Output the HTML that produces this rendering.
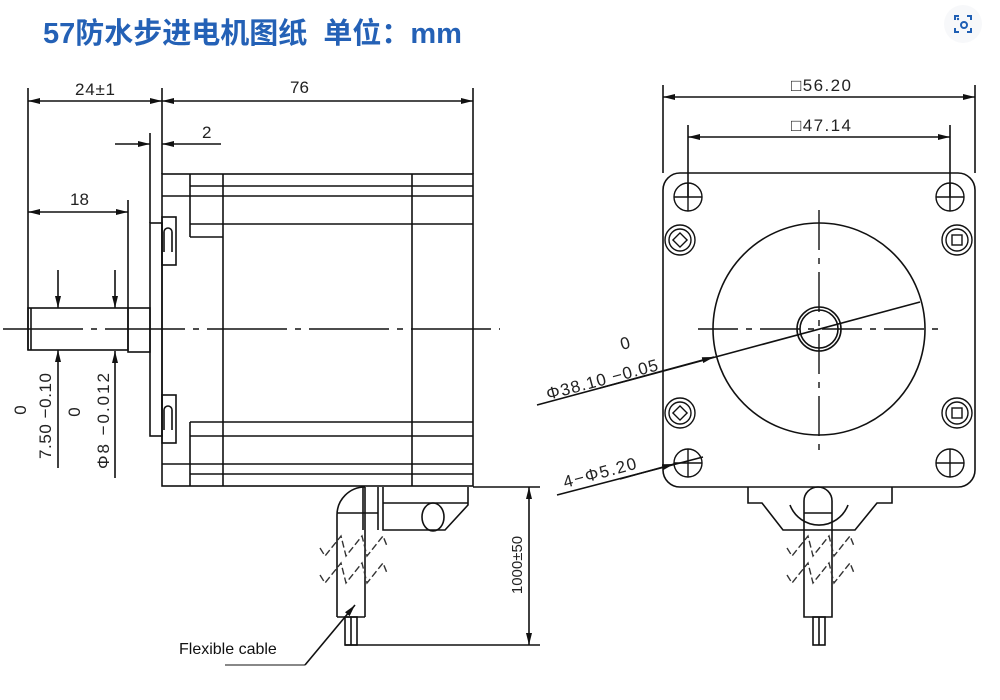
<!DOCTYPE html>
<html><head><meta charset="utf-8"><style>
html,body{margin:0;padding:0;background:#fff;width:1000px;height:700px;overflow:hidden}
svg{display:block}
.t{font-family:"Liberation Sans Narrow","Liberation Sans",sans-serif;fill:#222}
</style></head><body>
<svg width="1000" height="700" viewBox="0 0 1000 700" xmlns="http://www.w3.org/2000/svg">
<defs>
<marker id="a" viewBox="0 0 12 6" refX="12" refY="3" markerWidth="12" markerHeight="6" orient="auto-start-reverse" markerUnits="userSpaceOnUse"><path d="M0,0 L12,3 L0,6 z" fill="#111"/></marker>
</defs>
<text x="43" y="43" font-family="'Liberation Sans','Noto Sans CJK SC',sans-serif" font-size="29" font-weight="bold" fill="#2461b6" xml:space="preserve">57防水步进电机图纸  单位：mm</text>
<circle cx="963" cy="24" r="19" fill="#f7f8fa"/>
<g fill="none" stroke="#1f5fb4" stroke-width="2">
<path d="M955,20v-4h4 M967,16h4v4 M971,28v4h-4 M959,32h-4v-4"/>
<circle cx="964" cy="25" r="3"/>
</g>
<circle cx="958" cy="19" r="1.2" fill="#1f5fb4"/>

<g stroke="#111" stroke-width="1.6" fill="none">
<line x1="28" y1="88" x2="28" y2="350"/>
<line x1="162" y1="88" x2="162" y2="174"/>
<line x1="473" y1="88" x2="473" y2="174"/>
<line x1="28" y1="101" x2="162" y2="101" marker-start="url(#a)" marker-end="url(#a)"/>
<line x1="162" y1="101" x2="473" y2="101" marker-start="url(#a)" marker-end="url(#a)"/>
<line x1="115" y1="144" x2="150" y2="144" marker-end="url(#a)"/>
<line x1="221" y1="144" x2="162" y2="144" marker-end="url(#a)"/>
<line x1="150" y1="133" x2="150" y2="223"/>
<line x1="128" y1="200" x2="128" y2="308"/>
<line x1="28" y1="212" x2="128" y2="212" marker-start="url(#a)" marker-end="url(#a)"/>
<rect x="162" y="174" width="311" height="312"/>
<line x1="190" y1="174" x2="190" y2="237"/>
<line x1="190" y1="422" x2="190" y2="486"/>
<line x1="223" y1="174" x2="223" y2="486"/>
<line x1="412" y1="174" x2="412" y2="486"/>
<line x1="190" y1="186" x2="473" y2="186"/>
<line x1="162" y1="196" x2="473" y2="196"/>
<line x1="190" y1="224" x2="473" y2="224"/>
<line x1="190" y1="237" x2="223" y2="237"/>
<line x1="190" y1="422" x2="473" y2="422"/>
<line x1="190" y1="436" x2="473" y2="436"/>
<line x1="162" y1="464" x2="473" y2="464"/>
<line x1="190" y1="474" x2="473" y2="474"/>
<rect x="150" y="223" width="12" height="213"/>
<rect x="162" y="217" width="14" height="48"/>
<path d="M164,252v-20a4,4 0 0 1 8,0v20"/>
<rect x="162" y="395" width="14" height="48"/>
<path d="M164,430v-20a4,4 0 0 1 8,0v20"/>
<rect x="28" y="308" width="100" height="42"/>
<line x1="31" y1="308" x2="31" y2="350"/>
<rect x="128" y="308" width="22" height="44"/>
<line x1="3" y1="329" x2="500" y2="329" stroke-dasharray="80,8,6,8"/>
<line x1="58" y1="270" x2="58" y2="308" marker-end="url(#a)"/>
<line x1="58" y1="468" x2="58" y2="350" marker-end="url(#a)"/>
<line x1="115" y1="270" x2="115" y2="308" marker-end="url(#a)"/>
<line x1="115" y1="478" x2="115" y2="351" marker-end="url(#a)"/>
<path d="M337,617V515a28,28 0 0 1 28,-28"/>
<line x1="365" y1="487" x2="365" y2="617"/>
<line x1="337" y1="617" x2="365" y2="617"/>
<line x1="337" y1="513" x2="378" y2="513"/>
<line x1="363" y1="487" x2="363" y2="530"/>
<line x1="378" y1="487" x2="378" y2="530"/>
<path d="M383,487V530H445L468,505V487"/>
<line x1="383" y1="503" x2="468" y2="503"/>
<ellipse cx="433" cy="517" rx="11" ry="14"/>
<rect x="345" y="617" width="12" height="28"/>
<line x1="351" y1="617" x2="351" y2="645"/>
<line x1="345" y1="645" x2="540" y2="645"/>
<line x1="473" y1="487" x2="540" y2="487"/>
<line x1="529" y1="487" x2="529" y2="645" marker-start="url(#a)" marker-end="url(#a)"/>
<line x1="225" y1="665" x2="305" y2="665" stroke-width="1"/>
<line x1="305" y1="665" x2="355" y2="605" marker-end="url(#a)"/>

<line x1="663" y1="85" x2="663" y2="173"/>
<line x1="975" y1="85" x2="975" y2="173"/>
<line x1="663" y1="97" x2="975" y2="97" marker-start="url(#a)" marker-end="url(#a)"/>
<line x1="688" y1="125" x2="688" y2="197"/>
<line x1="950" y1="125" x2="950" y2="197"/>
<line x1="688" y1="137" x2="950" y2="137" marker-start="url(#a)" marker-end="url(#a)"/>
<rect x="663" y="173" width="312" height="314" rx="17"/>
<g stroke-width="1.4">
<circle cx="688" cy="197" r="14"/><path d="M674,197h28M688,183v28"/>
<circle cx="950" cy="197" r="14"/><path d="M936,197h28M950,183v28"/>
<circle cx="688" cy="463" r="14"/><path d="M674,463h28M688,449v28"/>
<circle cx="950" cy="463" r="14"/><path d="M936,463h28M950,449v28"/>
<circle cx="680" cy="240" r="15"/><circle cx="680" cy="240" r="11"/><rect x="675" y="235" width="10" height="10" transform="rotate(45 680 240)"/>
<circle cx="957" cy="240" r="15"/><circle cx="957" cy="240" r="11"/><rect x="952" y="235" width="10" height="10"/>
<circle cx="680" cy="413" r="15"/><circle cx="680" cy="413" r="11"/><rect x="675" y="408" width="10" height="10" transform="rotate(45 680 413)"/>
<circle cx="957" cy="413" r="15"/><circle cx="957" cy="413" r="11"/><rect x="952" y="408" width="10" height="10"/>
</g>
<circle cx="819" cy="329" r="106"/>
<circle cx="819" cy="329" r="22"/>
<circle cx="819" cy="329" r="19"/>
<line x1="698" y1="329" x2="940" y2="329" stroke-dasharray="40,8,6,8" stroke-width="1.4"/>
<line x1="819" y1="210" x2="819" y2="450" stroke-dasharray="40,8,6,8" stroke-width="1.4"/>
<line x1="537" y1="405" x2="920" y2="302"/>
<line x1="600" y1="388" x2="714" y2="357" marker-end="url(#a)"/>
<line x1="557" y1="495" x2="703" y2="457"/>
<line x1="620" y1="479" x2="674" y2="464" marker-end="url(#a)"/>
<path d="M748,487V503H762L783,530H855L877,503H892V487"/>
<path d="M790,505a31,31 0 0 0 58,0"/>
<path d="M804,617V501a14,14 0 0 1 28,0V617Z"/>
<line x1="804" y1="513" x2="832" y2="513"/>
<rect x="813" y="617" width="12" height="28"/>
<line x1="819" y1="617" x2="819" y2="645"/>
</g>
<g stroke="#333" stroke-width="1.4" fill="none" stroke-dasharray="7,3">
<path d="M320,548l5,8l16,-20l5,20l16,-20l5,20l16,-20l4,10"/>
<path d="M320,575l5,8l16,-20l5,20l16,-20l5,20l16,-20l4,10"/>
<path d="M787,548l5,8l16,-20l5,20l16,-20l5,20l16,-20l4,10"/>
<path d="M787,575l5,8l16,-20l5,20l16,-20l5,20l16,-20l4,10"/>
</g>

<text class="t" x="75" y="95" font-size="17" textLength="40">24±1</text>
<text x="290" y="93" font-family="'Liberation Sans',sans-serif" font-size="17" fill="#222">76</text>
<text class="t" x="202" y="138" font-size="17">2</text>
<text class="t" x="70" y="205" font-size="17">18</text>
<g class="t" font-size="17">
<text transform="translate(26,410) rotate(-90)" text-anchor="middle">0</text>
<text transform="translate(51,416) rotate(-90)" text-anchor="middle" textLength="86">7.50 −0.10</text>
<text transform="translate(80,412) rotate(-90)" text-anchor="middle">0</text>
<text transform="translate(109,421) rotate(-90)" text-anchor="middle" textLength="96">Φ8 −0.012</text>
<text transform="translate(522,565) rotate(-90)" text-anchor="middle" font-family="'Liberation Sans',sans-serif" font-size="15">1000±50</text>
<text x="791" y="91" textLength="60">□56.20</text>
<text x="791" y="131" textLength="60">□47.14</text>
<text transform="translate(622,350) rotate(-15)">0</text>
<text transform="translate(548,400) rotate(-15)" textLength="115">Φ38.10 −0.05</text>
<text transform="translate(565,488) rotate(-15)" textLength="75">4−Φ5.20</text>
</g>
<text x="179" y="654" font-family="'Liberation Sans',sans-serif" font-size="16" fill="#111">Flexible cable</text>
</svg>
</body></html>
